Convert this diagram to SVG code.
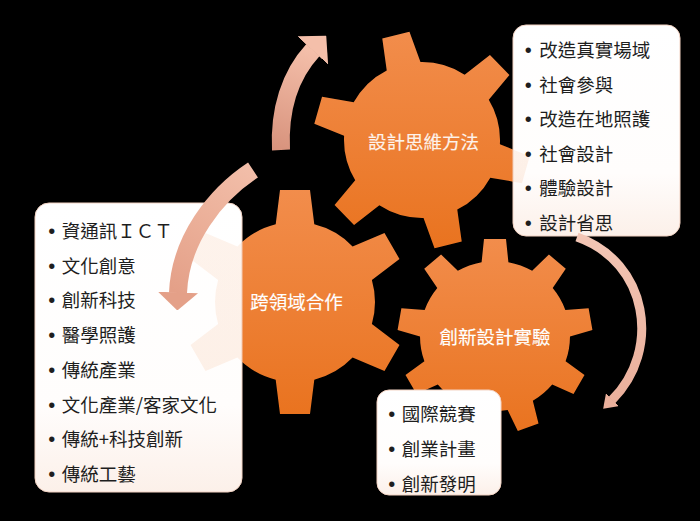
<svg xmlns="http://www.w3.org/2000/svg" width="700" height="521" viewBox="0 0 700 521">
<defs>
<linearGradient id="gearFill" x1="0" y1="0" x2="0" y2="1">
<stop offset="0" stop-color="#F28D4C"/>
<stop offset="1" stop-color="#E9731F"/>
</linearGradient>
<linearGradient id="boxFill" x1="0" y1="0" x2="0" y2="1">
<stop offset="0" stop-color="#FFFFFF"/>
<stop offset="0.7" stop-color="#FFFDFC"/>
<stop offset="1" stop-color="#FCF0E9"/>
</linearGradient>
<linearGradient id="gradUp" gradientUnits="userSpaceOnUse" x1="281" y1="150" x2="313" y2="50">
<stop offset="0" stop-color="#D8937D"/>
<stop offset="1" stop-color="#F4BFAA"/>
</linearGradient>
<linearGradient id="gradLeft" gradientUnits="userSpaceOnUse" x1="253" y1="170" x2="178" y2="293">
<stop offset="0" stop-color="#F2BEA9"/>
<stop offset="1" stop-color="#E4A088"/>
</linearGradient>
<linearGradient id="gradRight" gradientUnits="userSpaceOnUse" x1="577" y1="238" x2="612" y2="400">
<stop offset="0" stop-color="#F3C6B5"/>
<stop offset="1" stop-color="#EAB09C"/>
</linearGradient>
<clipPath id="clipG1">
<circle cx="422" cy="140" r="78"/>
<polygon transform="translate(422 140) rotate(-164)" points="70,-18 108,-14 108,14 70,18"/>
<polygon transform="translate(422 140) rotate(-104)" points="70,-18 108,-14 108,14 70,18"/>
<polygon transform="translate(422 140) rotate(-44)" points="70,-18 108,-14 108,14 70,18"/>
<polygon transform="translate(422 140) rotate(16)" points="70,-18 108,-14 108,14 70,18"/>
<polygon transform="translate(422 140) rotate(76)" points="70,-18 108,-14 108,14 70,18"/>
<polygon transform="translate(422 140) rotate(136)" points="70,-18 108,-14 108,14 70,18"/>
</clipPath>
<clipPath id="clipG2">
<circle cx="295" cy="302" r="80"/>
<polygon transform="translate(295 302) rotate(-90)" points="72,-20 112,-15 112,15 72,20"/>
<polygon transform="translate(295 302) rotate(-30)" points="72,-20 112,-15 112,15 72,20"/>
<polygon transform="translate(295 302) rotate(30)" points="72,-20 112,-15 112,15 72,20"/>
<polygon transform="translate(295 302) rotate(90)" points="72,-20 112,-15 112,15 72,20"/>
<polygon transform="translate(295 302) rotate(150)" points="72,-20 112,-15 112,15 72,20"/>
<polygon transform="translate(295 302) rotate(210)" points="72,-20 112,-15 112,15 72,20"/>
</clipPath>
<clipPath id="clipG3">
<circle cx="495" cy="336" r="75"/>
<polygon transform="translate(495 336) rotate(-90)" points="68,-14 97,-11 97,11 68,14"/>
<polygon transform="translate(495 336) rotate(-50)" points="68,-14 97,-11 97,11 68,14"/>
<polygon transform="translate(495 336) rotate(-10)" points="68,-14 97,-11 97,11 68,14"/>
<polygon transform="translate(495 336) rotate(30)" points="68,-14 97,-11 97,11 68,14"/>
<polygon transform="translate(495 336) rotate(70)" points="68,-14 97,-11 97,11 68,14"/>
<polygon transform="translate(495 336) rotate(110)" points="68,-14 97,-11 97,11 68,14"/>
<polygon transform="translate(495 336) rotate(150)" points="68,-14 97,-11 97,11 68,14"/>
<polygon transform="translate(495 336) rotate(190)" points="68,-14 97,-11 97,11 68,14"/>
<polygon transform="translate(495 336) rotate(230)" points="68,-14 97,-11 97,11 68,14"/>
</clipPath>
<marker id="headUp" markerUnits="userSpaceOnUse" viewBox="0 0 20 42" markerWidth="20" markerHeight="42" refX="0.5" refY="21" orient="auto">
<path d="M0,0 L20,21 L0,42 Z" fill="#F4BFAA"/>
</marker>
<marker id="headLeft" markerUnits="userSpaceOnUse" viewBox="0 0 18 40" markerWidth="18" markerHeight="40" refX="0.5" refY="20" orient="auto">
<path d="M0,0 L18,20 L0,40 Z" fill="#E4A088"/>
</marker>
<marker id="headRight" markerUnits="userSpaceOnUse" viewBox="0 0 13 18" markerWidth="13" markerHeight="18" refX="0.5" refY="9" orient="auto">
<path d="M0,0 L13,9 L0,18 Z" fill="#EAB09C"/>
</marker>
</defs>
<style>
.box { fill: url(#boxFill); stroke: #F3D3C3; stroke-width: 1; }
.item { font-family: "Noto Sans CJK TC", "Noto Sans CJK SC", sans-serif; font-size: 18.5px; fill: #1E1E1E; }
.bul { font-family: "Liberation Sans", sans-serif; font-size: 20px; }
.label { font-family: "Noto Sans CJK TC", "Noto Sans CJK SC", sans-serif; font-size: 18.5px; fill: #FFFFFF; stroke: #FFFFFF; stroke-width: 0.15; text-anchor: middle; }
.gear { fill: url(#gearFill); }
.ghost { fill: url(#gearFill); opacity: 0.1; }
.shaft { fill: none; stroke-linecap: butt; }
</style>
<rect x="0" y="0" width="700" height="521" fill="#000000"/>

<g id="gear-design-thinking">
<rect class="gear" x="312" y="30" width="220" height="220" clip-path="url(#clipG1)"/>
<text class="label" x="423.5" y="148.5">設計思維方法</text>
</g>
<g id="gear-cross-domain">
<rect class="gear" x="181" y="188" width="228" height="228" clip-path="url(#clipG2)"/>
<text class="label" x="296.5" y="309">跨領域合作</text>
</g>
<g id="gear-innovation-lab">
<rect class="gear" x="396" y="237" width="198" height="198" clip-path="url(#clipG3)"/>
<text class="label" x="495" y="343.5">創新設計實驗</text>
</g>

<g id="list-design-thinking">
<rect class="box" x="513" y="25" width="167" height="211" rx="13"/>
<rect class="ghost" x="312" y="30" width="220" height="220" clip-path="url(#clipG1)"/>
<text class="item" y="57"><tspan class="bul" x="524.8">•</tspan><tspan x="539.3">改造真實場域</tspan></text>
<text class="item" y="91.5"><tspan class="bul" x="524.8">•</tspan><tspan x="539.3">社會參與</tspan></text>
<text class="item" y="126"><tspan class="bul" x="524.8">•</tspan><tspan x="539.3">改造在地照護</tspan></text>
<text class="item" y="160.5"><tspan class="bul" x="524.8">•</tspan><tspan x="539.3">社會設計</tspan></text>
<text class="item" y="195"><tspan class="bul" x="524.8">•</tspan><tspan x="539.3">體驗設計</tspan></text>
<text class="item" y="229.5"><tspan class="bul" x="524.8">•</tspan><tspan x="539.3">設計省思</tspan></text>
</g>

<g id="list-cross-domain">
<rect class="box" x="35" y="203" width="207" height="289" rx="14"/>
<rect class="ghost" x="181" y="188" width="62" height="228" clip-path="url(#clipG2)"/>
<text class="item" y="237.7"><tspan class="bul" x="48.2">•</tspan><tspan x="61.7">資通訊ＩＣＴ</tspan></text>
<text class="item" y="272.5"><tspan class="bul" x="48.2">•</tspan><tspan x="61.7">文化創意</tspan></text>
<text class="item" y="307.2"><tspan class="bul" x="48.2">•</tspan><tspan x="61.7">創新科技</tspan></text>
<text class="item" y="342"><tspan class="bul" x="48.2">•</tspan><tspan x="61.7">醫學照護</tspan></text>
<text class="item" y="376.7"><tspan class="bul" x="48.2">•</tspan><tspan x="61.7">傳統產業</tspan></text>
<text class="item" y="411.5"><tspan class="bul" x="48.2">•</tspan><tspan x="61.7">文化產業/客家文化</tspan></text>
<text class="item" y="446.3"><tspan class="bul" x="48.2">•</tspan><tspan x="61.7">傳統+科技創新</tspan></text>
<text class="item" y="481"><tspan class="bul" x="48.2">•</tspan><tspan x="61.7">傳統工藝</tspan></text>
</g>

<g id="list-innovation-lab">
<rect class="box" x="377" y="390" width="124" height="105" rx="12"/>
<text class="item" y="420.5"><tspan class="bul" x="388.2">•</tspan><tspan x="401.7">國際競賽</tspan></text>
<text class="item" y="455.5"><tspan class="bul" x="388.2">•</tspan><tspan x="401.7">創業計畫</tspan></text>
<text class="item" y="490.5"><tspan class="bul" x="388.2">•</tspan><tspan x="401.7">創新發明</tspan></text>
</g>

<g id="connectors">
<path class="shaft" d="M281,150 C279,110 290,75 313,50" stroke="url(#gradUp)" stroke-width="18" marker-end="url(#headUp)"/>
<path class="shaft" d="M253,170 C215,195 180,240 178,293" stroke="url(#gradLeft)" stroke-width="18" marker-end="url(#headLeft)"/>
<path class="shaft" d="M577,237 C648,262 662,350 612,400" stroke="url(#gradRight)" stroke-width="9" marker-end="url(#headRight)"/>
</g>
</svg>
